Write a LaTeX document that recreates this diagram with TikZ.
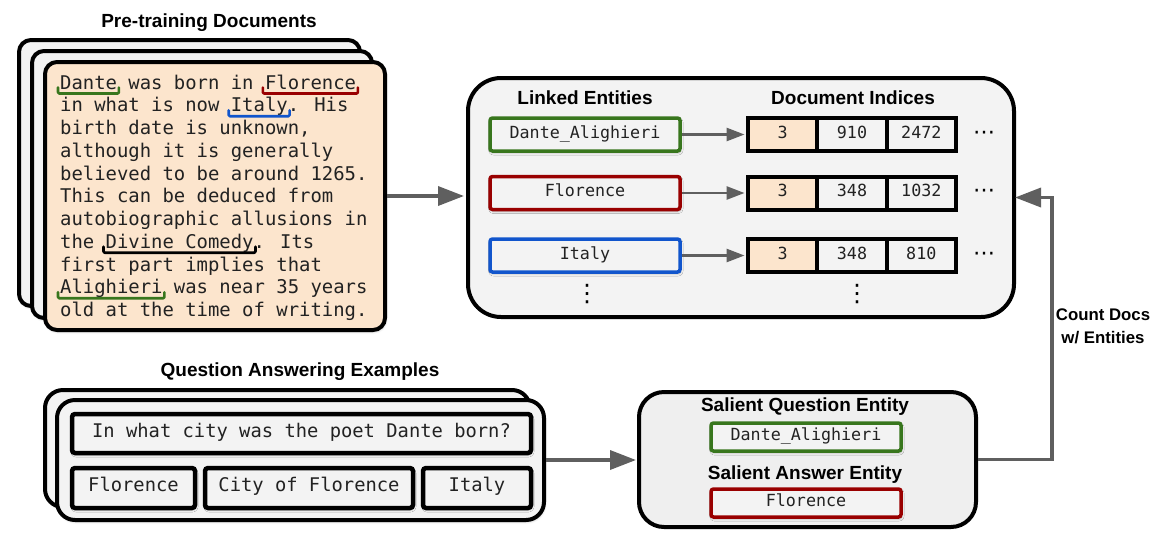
\documentclass[tikz,border=0pt]{standalone}
\usepackage{fontspec}
\setmainfont{Liberation Sans}
\newfontfamily\monof{DejaVu Sans Mono}
\newfontfamily\symf{DejaVu Sans}
\usetikzlibrary{arrows.meta,shadows.blur,calc}
\definecolor{peach}{HTML}{FCE5CD}
\definecolor{panel}{HTML}{F3F3F3}
\definecolor{salpanel}{HTML}{EFEFEF}
\definecolor{egreen}{HTML}{38761D}
\definecolor{ered}{HTML}{990000}
\definecolor{eblue}{HTML}{1155CC}
\definecolor{agray}{HTML}{5F5F5F}
\definecolor{ink}{HTML}{222222}
\newcommand\ulmark[4]{%
  \draw[ulbar,#1] ({60+#3*11.38-2},{89+22.75*(#2-1)-1.5}) --
    ({60+#3*11.38-2},{89+22.75*(#2-1)+4.5}) --
    ({60+#4*11.38+2},{89+22.75*(#2-1)+4.5}) --
    ({60+#4*11.38+2},{89+22.75*(#2-1)-1.5});}
\begin{document}
\begin{tikzpicture}[x=1pt,y=-1pt,
  shad/.style={blur shadow={shadow xshift=0.8pt,shadow yshift=-1.8pt,shadow blur radius=2.2pt,shadow opacity=28}},
  card/.style={draw=black,line width=4pt,rounded corners=12pt,fill=panel,inner sep=0pt},
  bigpanel/.style={draw=black,line width=4pt,fill=panel,inner sep=0pt},
  heading/.style={font=\bfseries\fontsize{19}{22}\selectfont,text=black,inner sep=0pt,anchor=base},
  docline/.style={font=\monof\fontsize{18.9}{22}\selectfont,text=ink,inner sep=0pt,anchor=base west},
  ent/.style={draw=#1,line width=3.5pt,fill=panel,minimum width=190pt,minimum height=33pt,
    rounded corners=2.5pt,inner sep=0pt,font=\monof\fontsize{16.7}{20}\selectfont,text=ink,
    text height=0.72em,text depth=0.02em,shad},
  cell/.style={draw=black,line width=4pt,fill=#1,minimum width=69.3pt,minimum height=33pt,
    inner sep=0pt,font=\monof\fontsize{16.7}{20}\selectfont,text=ink,text height=0.72em,text depth=0.02em},
  qbox/.style={draw=black,line width=4.5pt,fill=panel,rounded corners=3pt,inner sep=0pt,
    minimum height=#1,font=\monof\fontsize{18.8}{22}\selectfont,text=ink,text height=0.72em,text depth=0.02em,shad},
  sbox/.style={draw=#1,line width=3.5pt,fill=panel,minimum width=190pt,minimum height=28pt,
    rounded corners=2.5pt,inner sep=0pt,font=\monof\fontsize{16.7}{20}\selectfont,text=ink,
    text height=0.72em,text depth=0.02em,shad},
  arr/.style={draw=agray,line width=3.5pt,-{Triangle[length=26pt,width=19pt]}},
  sarr/.style={draw=agray,line width=2.6pt,-{Triangle[length=18pt,width=13pt]}},
  ulbar/.style={line width=2.6pt,line cap=round,line join=round,rounded corners=1.2pt},
  dotsh/.style={font=\symf\fontsize{22}{24}\selectfont,inner sep=0pt},
  dotsv/.style={font=\symf\fontsize{24}{26}\selectfont,inner sep=0pt}
]
\useasboundingbox (0,0) rectangle (1173,547);

% ---------- Pre-training documents ----------
\node[heading] (hdoc) at (209,27) {Pre-training Documents};
\node[card,minimum width=341pt,minimum height=266pt,shad] (doc1) at (189.5,173) {};
\node[card,minimum width=340pt,minimum height=267pt,shad] (doc2) at (202,184.5) {};
\node[card,fill=peach,minimum width=340pt,minimum height=268pt,shad] (doc3) at (215,196) {};

\node[docline] (l1) at (60,{89+22.75*0}) {Dante was born in Florence};
\node[docline] (l2) at (60,{89+22.75*1}) {in what is now Italy. His};
\node[docline] (l3) at (60,{89+22.75*2}) {birth date is unknown,};
\node[docline] (l4) at (60,{89+22.75*3}) {although it is generally};
\node[docline] (l5) at (60,{89+22.75*4}) {believed to be around 1265.};
\node[docline] (l6) at (60,{89+22.75*5}) {This can be deduced from};
\node[docline] (l7) at (60,{89+22.75*6}) {autobiographic allusions in};
\node[docline] (l8) at (60,{89+22.75*7}) {the Divine Comedy. Its};
\node[docline] (l9) at (60,{89+22.75*8}) {first part implies that};
\node[docline] (l10) at (60,{89+22.75*9}) {Alighieri was near 35 years};
\node[docline] (l11) at (60,{89+22.75*10}) {old at the time of writing.};

\ulmark{egreen}{1}{0}{5}
\ulmark{ered}{1}{18}{26}
\ulmark{eblue}{2}{15}{20}
\ulmark{black}{8}{4}{17}
\ulmark{egreen}{10}{0}{9}

% ---------- Linked entities panel ----------
\node[bigpanel,rounded corners=33pt,minimum width=546pt,minimum height=239pt] (linked) at (741,197.5) {};
\node[heading] (hle) at (585,104) {Linked Entities};
\node[heading] (hdi) at (853,104) {Document Indices};

\node[ent=egreen] (e1) at (585,134.5) {Dante\_Alighieri};
\node[ent=ered] (e2) at (585,193) {Florence};
\node[ent=eblue] (e3) at (585,255.5) {Italy};

\node[cell=peach] (c11) at (782.7,134.5) {3};
\node[cell=panel] (c12) at (852,134.5) {910};
\node[cell=panel] (c13) at (921.3,134.5) {2472};
\node[cell=peach] (c21) at (782.7,193) {3};
\node[cell=panel] (c22) at (852,193) {348};
\node[cell=panel] (c23) at (921.3,193) {1032};
\node[cell=peach] (c31) at (782.7,255.5) {3};
\node[cell=panel] (c32) at (852,255.5) {348};
\node[cell=panel] (c33) at (921.3,255.5) {810};

\node[dotsh] (h1) at (984,135) {⋯};
\node[dotsh] (h2) at (984,193.5) {⋯};
\node[dotsh] (h3) at (984,256) {⋯};
\node[dotsv] (v1) at (587,294) {⋮};
\node[dotsv] (v2) at (857,294) {⋮};

\draw[sarr,shorten >=1.5pt] (e1.east) -- (c11.west);
\draw[sarr,shorten >=1.5pt] (e2.east) -- (c21.west);
\draw[sarr,shorten >=1.5pt] (e3.east) -- (c31.west);

\draw[arr,shorten >=2pt] (doc3.east) -- (doc3.east -| linked.west);

% ---------- QA examples ----------
\node[heading] (hqa) at (300,376) {Question Answering Examples};
\node[card,rounded corners=18pt,minimum width=485pt,minimum height=117pt,shad] (qa1) at (287.5,448.5) {};
\node[card,rounded corners=18pt,minimum width=487pt,minimum height=120pt,shad] (qa2) at (300.5,460) {};
\node[qbox=39pt,minimum width=459pt] (q) at (301.5,433.5) {In what city was the poet Dante born?};
\node[qbox=40pt,minimum width=123pt] (a1) at (133.5,488) {Florence};
\node[qbox=40pt,minimum width=208pt] (a2) at (309,488) {City of Florence};
\node[qbox=40pt,minimum width=108pt] (a3) at (477,488) {Italy};

% ---------- Salient entities ----------
\node[bigpanel,fill=salpanel,rounded corners=25pt,minimum width=337pt,minimum height=135pt] (sal) at (807.5,459.5) {};
\node[heading] (hsq) at (805,411) {Salient Question Entity};
\node[sbox=egreen] (sq) at (806,437) {Dante\_Alighieri};
\node[heading] (hsa) at (805,479) {Salient Answer Entity};
\node[sbox=ered] (sa) at (806,503) {Florence};

\draw[arr,shorten >=1pt] (qa2.east) -- (qa2.east -| sal.west);

\draw[arr,line join=miter,shorten >=-1pt] (sal.east) -- ++(74,0) |- (linked.east);
\node[font=\bfseries\fontsize{16.8}{23}\selectfont,align=center,inner sep=0pt,anchor=north] (cnt) at (1103,309) {Count Docs\\w/ Entities};
\end{tikzpicture}
\end{document}
